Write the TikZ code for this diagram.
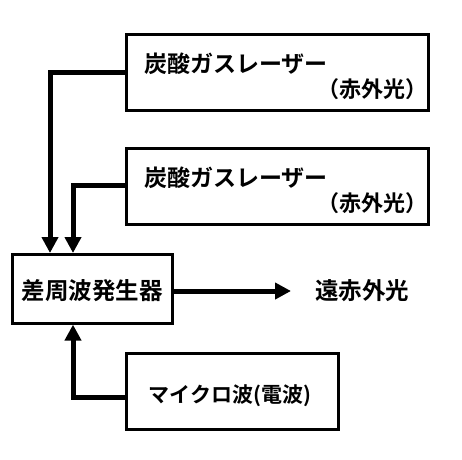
\documentclass[tikz,border=0pt]{standalone}
\usepackage{fontspec}
\newfontfamily\cjk{Noto Sans CJK JP}[BoldFont={* Bold}]
\usetikzlibrary{arrows.meta}
\begin{document}
\begin{tikzpicture}[x=1pt,y=-1pt,
  box/.style={draw,line width=2.6pt},
  conn/.style={line width=5pt,-{Triangle[length=16pt,width=16pt]}},
  txt/.style={font=\cjk\bfseries\fontsize{22}{26}\selectfont,inner sep=0pt},
  laser/.style={font=\cjk\bfseries\fontsize{23}{27}\selectfont,inner sep=0pt},
  big/.style={font=\cjk\bfseries\fontsize{23.5}{28}\selectfont,inner sep=0pt}]
\useasboundingbox (0,0) rectangle (462,459);
\node[box,minimum width=302pt,minimum height=76pt,anchor=north west] (co1) at (125,33) {};
\node[laser,anchor=west] (t1a) at (144,64) {炭酸ガスレーザー};
\node[txt,anchor=east] (t1b) at (428,89) {（赤外光）};
\node[box,minimum width=302pt,minimum height=76pt,anchor=north west] (co2) at (125,147) {};
\node[laser,anchor=west] (t2a) at (144,178) {炭酸ガスレーザー};
\node[txt,anchor=east] (t2b) at (428,203) {（赤外光）};
\node[box,minimum width=160pt,minimum height=69pt,anchor=north west] (dfg) at (11,253) {};
\node[big] (dfgt) at (92,291) {差周波発生器};
\node[box,minimum width=212pt,minimum height=76pt,anchor=north west] (mw) at (125,352) {};
\node[txt,font=\cjk\bfseries\fontsize{21}{25}\selectfont] (mwt) at (230,396) {マイクロ波(電波)};
\node[big] (fir) at (362,291) {遠赤外光};
\coordinate (a1) at (50,72);
\coordinate (a2) at (73,185);
\coordinate (a3) at (73,397);
\draw[conn] (co1.west |- a1) -| (dfg.north -| a1);
\draw[conn] (co2.west |- a2) -| (dfg.north -| a2);
\draw[conn] (mw.west |- a3) -| (dfg.south -| a3);
\coordinate (outend) at (291,291);
\draw[conn] (dfg.east |- outend) -- (outend);
\end{tikzpicture}
\end{document}
